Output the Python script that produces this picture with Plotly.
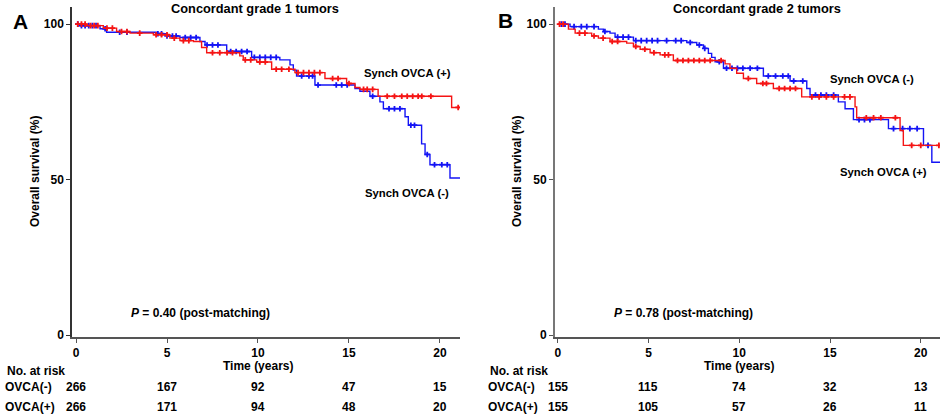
import numpy as np
import plotly.graph_objects as go

# ==========================================
# DATA
# ==========================================
# Panel A - concordant grade 1 tumors
A_NEG_T = [0, 0.22, 1.32, 1.68, 4.43, 4.98, 5.71, 6.81, 7.09, 8.28, 9.65, 11.2, 11.76, 11.94, 12.12,
           13.13, 15.33, 15.6, 16.15, 16.7, 16.89, 18.08, 18.26, 18.99, 19.18, 19.45, 20.55, 21.15]
A_NEG_S = [100, 99.5, 98.5, 97.4, 96.9, 96.2, 95.7, 94.4, 93.3, 91.2, 89.3, 88.5, 86.9, 85.2, 83.3,
           80.4, 79.3, 78.4, 76.8, 75.0, 72.8, 70.2, 67.5, 61.5, 58.1, 54.8, 50.5, 50.5]
A_POS_T = [0, 0.59, 1.5, 2.23, 2.97, 4.25, 5.16, 5.71, 6.45, 6.9, 7.18, 9.0, 9.19, 9.93, 10.75,
           12.03, 13.68, 14.87, 15.33, 15.6, 16.6, 20.64, 21.1]
A_POS_S = [100, 99.5, 98.7, 97.6, 97.1, 96.6, 95.5, 94.7, 94.4, 92.5, 90.8, 89.8, 88.5, 87.8, 85.5,
           84.4, 82.5, 80.9, 79.6, 79.0, 76.8, 73.2, 73.2]
A_NEG_CENS = [0.1, 0.3, 0.5, 0.7, 0.9, 1.1, 1.6, 2.4, 2.8, 4.5, 4.7, 5.0, 5.3, 5.5, 6.0, 6.3, 6.6,
              7.2, 7.5, 7.8, 8.5, 8.8, 9.1, 9.4, 9.8, 10.1, 10.4, 10.7, 11.0, 12.4, 12.8, 13.0,
              13.3, 14.3, 14.6, 14.9, 16.3, 17.2, 17.5, 17.8, 18.4, 18.6, 19.3, 19.7, 20.1, 20.4]
A_POS_CENS = [0.1, 0.3, 0.5, 0.8, 1.0, 1.2, 1.7, 2.0, 2.5, 2.8, 3.5, 4.4, 4.7, 5.0, 5.4, 5.9, 6.2,
              7.5, 7.9, 8.3, 8.6, 9.3, 9.6, 10.1, 10.4, 11.0, 11.3, 11.7, 12.2, 12.5, 12.8, 13.1,
              13.4, 14.1, 14.4, 15.0, 15.8, 16.0, 16.3, 17.1, 17.5, 17.9, 18.2, 18.5, 18.8, 19.0,
              19.5, 21.0]

# Panel B - concordant grade 2 tumors
B_NEG_T = [0, 0.68, 2.24, 2.52, 2.88, 3.16, 4.17, 7.11, 7.66, 8.03, 8.3, 8.48, 8.67, 9.13, 11.33,
           12.8, 13.72, 13.9, 15.46, 15.83, 16.29, 18.22, 20.15, 20.61, 21.07]
B_NEG_S = [100, 99.2, 98.4, 97.6, 97.1, 95.8, 94.7, 94.1, 93.3, 92.2, 90.6, 89.3, 87.9, 85.8, 83.3,
           81.7, 79.3, 77.2, 75.0, 72.8, 69.3, 66.4, 61.0, 55.6, 55.6]
B_POS_T = [0, 0.59, 0.96, 1.87, 2.24, 2.88, 3.8, 4.17, 4.54, 5.09, 5.64, 6.37, 9.22, 9.49, 9.86,
           10.23, 10.96, 11.88, 13.44, 16.38, 16.47, 18.86, 19.04, 21.07]
B_POS_S = [100, 98.4, 97.1, 96.2, 95.5, 94.4, 93.9, 92.8, 91.9, 90.8, 90.1, 88.3, 87.2, 85.8, 84.2,
           82.5, 80.9, 79.3, 76.6, 73.4, 69.9, 65.8, 61.0, 61.0]
B_NEG_CENS = [0.2, 0.4, 0.9, 1.3, 1.6, 2.0, 2.6, 3.3, 3.6, 3.9, 4.3, 4.6, 4.9, 5.2, 5.5, 6.0, 6.5,
              6.8, 7.3, 7.8, 8.1, 8.9, 9.3, 9.6, 9.9, 10.2, 10.6, 11.0, 11.6, 12.0, 12.4, 12.7,
              13.0, 13.5, 14.2, 14.5, 14.8, 15.2, 16.6, 16.9, 17.2, 18.5, 19.0, 19.4, 19.8, 20.4]
B_POS_CENS = [0.1, 0.3, 1.2, 1.5, 2.0, 2.5, 3.0, 3.3, 4.3, 4.8, 5.3, 5.9, 6.1, 6.6, 6.9, 7.2, 7.5,
              7.8, 8.1, 8.4, 9.0, 10.5, 11.3, 11.5, 12.2, 12.5, 12.8, 13.1, 14.0, 14.4, 14.8, 15.2,
              15.8, 16.1, 17.0, 17.4, 17.8, 18.6, 19.5, 20.0, 21.0]

RISK_TIMES = [0, 5, 10, 15, 20]
Y_TICKS = [0, 50, 100]
A_RISK_NEG = [266, 167, 92, 47, 15]
A_RISK_POS = [266, 171, 94, 48, 20]
B_RISK_NEG = [155, 115, 74, 32, 13]
B_RISK_POS = [155, 105, 57, 26, 11]

BLUE = "#1414f5"
RED = "#f51414"
FONT = "Liberation Sans, Arial, sans-serif"
W, H = 946, 416


def step_value(times, surv, t):
    idx = np.searchsorted(times, t, side="right") - 1
    return [surv[i] for i in idx]


def px_x(p):
    return p / W


def px_y(p):
    return 1 - p / H


fig = go.Figure()

panels = [
    ("x", "y", A_NEG_T, A_NEG_S, A_NEG_CENS, A_POS_T, A_POS_S, A_POS_CENS),
    ("x2", "y2", B_NEG_T, B_NEG_S, B_NEG_CENS, B_POS_T, B_POS_S, B_POS_CENS),
]
for xa, ya, nt, ns, nc, pt, ps, pc in panels:
    for t, s, c, col in [(nt, ns, nc, BLUE), (pt, ps, pc, RED)]:
        fig.add_trace(go.Scatter(x=t, y=s, mode="lines", line=dict(color=col, width=1.4, shape="hv"),
                                 xaxis=xa, yaxis=ya, showlegend=False, hoverinfo="skip"))
        fig.add_trace(go.Scatter(x=c, y=step_value(t, s, c), mode="markers",
                                 marker=dict(symbol="cross-thin", size=4, line=dict(color=col, width=1.8)),
                                 xaxis=xa, yaxis=ya, showlegend=False, hoverinfo="skip"))

axis_common = dict(showgrid=False, zeroline=False, ticks="outside", ticklen=4, tickwidth=1,
                   automargin=False, showline=True, fixedrange=True,
                   tickfont=dict(family=FONT, size=12, color="black"))
x_common = dict(tickvals=RISK_TIMES, ticktext=[f"<b>{t}</b>" for t in RISK_TIMES],
                linecolor="#555", linewidth=1.5, tickcolor="#555", **axis_common)
y_common = dict(domain=[px_y(337), px_y(7)], range=[-0.6, 105.5], tickvals=Y_TICKS,
                ticktext=[f"<b>{t}</b>" for t in Y_TICKS], **axis_common)

fig.update_layout(
    width=W, height=H,
    margin=dict(l=0, r=0, t=0, b=0),
    plot_bgcolor="white", paper_bgcolor="white",
    xaxis=dict(domain=[px_x(72), px_x(460)], range=[-0.22, 21.1], anchor="y", **x_common),
    yaxis=dict(linecolor="#333", linewidth=1.5, tickcolor="#333", anchor="x", **y_common),
    xaxis2=dict(domain=[px_x(555), px_x(940)], range=[-0.15, 21.06], anchor="y2", **x_common),
    yaxis2=dict(linecolor="#777", linewidth=2, tickcolor="#555", anchor="x2", **y_common),
)

ann = []


def text(s, x, y, size=12, xanchor="center", xref="paper", angle=0):
    ann.append(dict(text=f"<b>{s}</b>", x=x, y=y, xref=xref, yref="paper", xanchor=xanchor,
                    yanchor="middle", showarrow=False, textangle=angle,
                    font=dict(family=FONT, size=size, color="black")))


# titles and panel letters
text("Concordant grade 1 tumors", px_x(255), px_y(8), size=12.8)
text("Concordant grade 2 tumors", px_x(757), px_y(8), size=12.8)
text("A", px_x(20), px_y(21), size=21)
text("B", px_x(506), px_y(20), size=21)

# axis titles
text("Overall survival (%)", px_x(35), px_y(172), angle=-90)
text("Overall survival (%)", px_x(517), px_y(172), angle=-90)
text("Time (years)", 10, px_y(366), xref="x")
text("Time (years)", 10, px_y(366), xref="x2")

# p values
text("<i>P</i> = 0.40 (post-matching)", px_x(129), px_y(313), xanchor="left")
text("<i>P</i> = 0.78 (post-matching)", px_x(612), px_y(313), xanchor="left")

# curve labels
text("Synch OVCA (+)", px_x(362), px_y(73), size=11.3, xanchor="left")
text("Synch OVCA (-)", px_x(363), px_y(193), size=11.3, xanchor="left")
text("Synch OVCA (-)", px_x(828), px_y(79), size=11.3, xanchor="left")
text("Synch OVCA (+)", px_x(838), px_y(172), size=11.3, xanchor="left")

# number at risk table
for xref, left, neg, pos in [("x", 3, A_RISK_NEG, A_RISK_POS), ("x2", 486, B_RISK_NEG, B_RISK_POS)]:
    text("No. at risk", px_x(left + 2), px_y(371), xanchor="left")
    text("OVCA(-)", px_x(left), px_y(387), xanchor="left")
    text("OVCA(+)", px_x(left), px_y(407), xanchor="left")
    for t, n1, n2 in zip(RISK_TIMES, neg, pos):
        text(str(n1), t, px_y(387), xref=xref)
        text(str(n2), t, px_y(407), xref=xref)

fig.update_layout(annotations=ann)
# the page body has a default 8px margin; drop it so the figure sits at the window origin
fig.write_html("out.html", config={"displayModeBar": False},
               post_script="document.body.style.margin='0';")
